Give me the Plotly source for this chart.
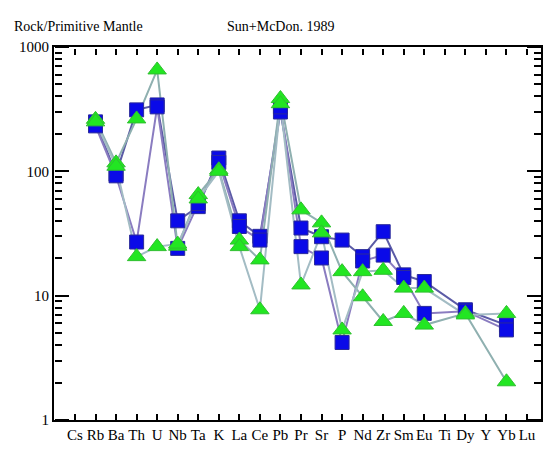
import plotly.graph_objects as go

elements = ["Cs", "Rb", "Ba", "Th", "U", "Nb", "Ta", "K", "La", "Ce", "Pb", "Pr",
            "Sr", "P", "Nd", "Zr", "Sm", "Eu", "Ti", "Dy", "Y", "Yb", "Lu"]

sq1 = [None, 250, 95, 312, 342, 40, 52, 128, 40, 30, 300, 35, 29.8, 28, 20.6, 32.7, 14.7, 13, None, 7.7, None, 5.8, None]
sq2 = [None, 232, 92, 27, 330, 24, 55, 118, 36, 28, 330, 24.8, 20.1, 4.2, 19, 21.2, 14, 7.2, None, 7.5, None, 5.3, None]
tr1 = [None, 262, 117, 264, 654, 25, 65, 103, 28, 19.4, 385, 49, 38.5, 15.6, 9.8, 6.2, 7.2, 5.8, None, 7.2, None, 2.03, None]
tr2 = [None, 250, 110, 20.6, 24.8, 26, 60, 100, 24.8, 7.7, 350, 12.2, 32, 5.3, 15.6, 16, 11.5, 11.5, None, 7.0, None, 7.2, None]

ymajor = [1, 10, 100, 1000]
ymajor_text = ["1", "10", "100", "1000"]
yminor = [2, 3, 4, 5, 6, 7, 8, 9, 20, 30, 40, 50, 60, 70, 80, 90,
          200, 300, 400, 500, 600, 700, 800, 900]

series = [
    (sq1, "#5b5ba6", "square"),
    (sq2, "#8a7cc0", "square"),
    (tr1, "#8fb0b0", "triangle-up"),
    (tr2, "#a3bcc4", "triangle-up"),
]

xpos = list(range(len(elements)))
fig = go.Figure()

for vals, lc, sym in series:
    fig.add_trace(go.Scatter(x=xpos, y=vals, mode="lines", connectgaps=True,
                             line=dict(color=lc, width=2), showlegend=False,
                             hoverinfo="skip"))
for vals, lc, sym in series:
    if sym == "square":
        mk = dict(symbol="square", size=14, color="#0a0ae8",
                  line=dict(color="#2a2a9a", width=1))
    else:
        mk = dict(symbol="triangle-up", size=16, color="#22e622",
                  line=dict(color="#2fbf2f", width=1))
    fig.add_trace(go.Scatter(x=xpos, y=vals, mode="markers", marker=mk,
                             showlegend=False))

axfont = dict(family="Liberation Serif", size=15, color="black")
xr = [-1.02, 22.68]
yr = [0, 3]


def tick_y(vals, length, pos, side):
    return dict(type="log", range=yr, overlaying="y", anchor="free", position=pos,
                side=side, tickmode="array", tickvals=vals, showticklabels=False,
                ticks="outside", ticklen=length, tickwidth=2, tickcolor="black",
                showline=False, showgrid=False, zeroline=False, automargin=False)


fig.update_layout(
    width=546, height=449,
    margin=dict(l=54, r=5, t=47, b=29),
    paper_bgcolor="white", plot_bgcolor="rgba(0,0,0,0)",
    font=axfont,
    xaxis=dict(range=xr, tickmode="array", tickvals=xpos, ticktext=elements,
               tickangle=0, ticks="inside", ticklen=6, tickwidth=2, tickcolor="black",
               showline=True, linewidth=2, linecolor="black", mirror=True,
               showgrid=False, zeroline=False, tickfont=axfont, automargin=False),
    xaxis2=dict(range=xr, domain=[0, 1], anchor="y6", side="bottom",
                tickmode="array", tickvals=xpos, showticklabels=False,
                ticks="outside", ticklen=6, tickwidth=2, tickcolor="black",
                showline=False, showgrid=False, zeroline=False, automargin=False),
    yaxis=dict(type="log", range=yr, tickmode="array", tickvals=ymajor,
               ticktext=ymajor_text, ticks="", showline=True, linewidth=2,
               linecolor="black", mirror=True, showgrid=False, zeroline=False,
               tickfont=axfont, automargin=False),
    yaxis2=tick_y(ymajor, 14, 0, "right"),
    yaxis3=tick_y(yminor, 7, 0, "right"),
    yaxis4=tick_y(ymajor, 14, 1, "left"),
    yaxis5=tick_y(yminor, 7, 1, "left"),
    yaxis6=dict(domain=[0.997, 1], anchor="x2", range=[0, 1], showticklabels=False,
                ticks="", showline=False, showgrid=False, zeroline=False,
                automargin=False),
    annotations=[
        dict(text="Rock/Primitive Mantle", xref="paper", yref="paper",
             x=-0.087, y=1.055, xanchor="left", yanchor="middle", showarrow=False,
             font=dict(family="Liberation Serif", size=14, color="black")),
        dict(text="Sun+McDon. 1989", xref="paper", yref="paper",
             x=0.352, y=1.055, xanchor="left", yanchor="middle", showarrow=False,
             font=dict(family="Liberation Serif", size=14, color="black")),
    ],
)

# empty traces so the tick-only axes are drawn
for xa, ya in [("x2", "y6"), ("x", "y2"), ("x", "y3"), ("x", "y4"), ("x", "y5")]:
    fig.add_trace(go.Scatter(x=[None], y=[None], xaxis=xa, yaxis=ya,
                             showlegend=False, hoverinfo="skip"))

fig.write_html("out.html")
